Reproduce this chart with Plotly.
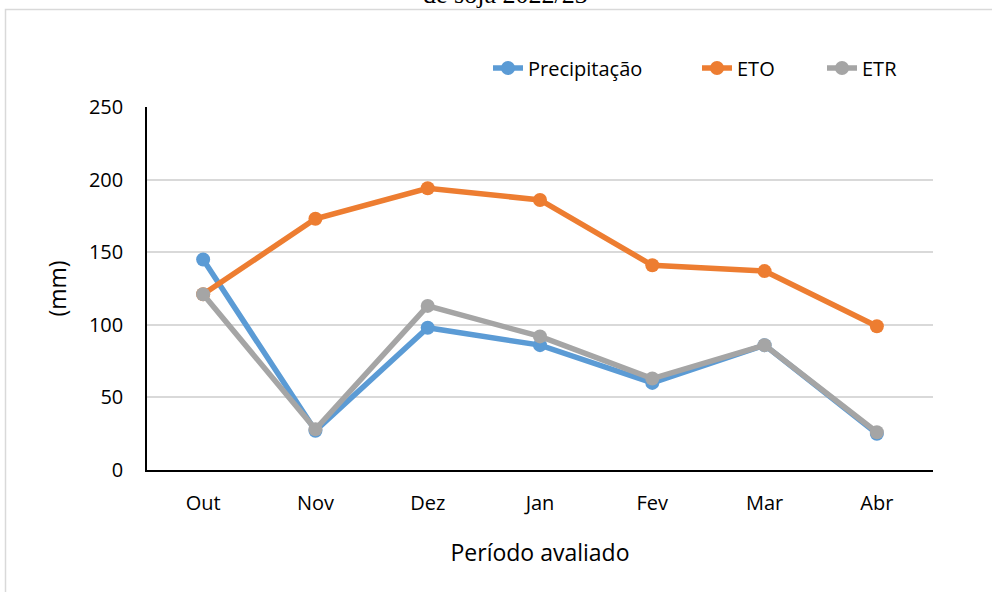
import plotly.graph_objects as go

months = ["Out", "Nov", "Dez", "Jan", "Fev", "Mar", "Abr"]
precipitacao = [145, 27, 98, 86, 60, 86, 25]
eto = [121, 173, 194, 186, 141, 137, 99]
etr = [121, 28, 113, 92, 63, 86, 26]
y_ticks = [0, 50, 100, 150, 200, 250]

L, R, T, B = 147, 59, 107, 122
W, H = 992, 592
pw, ph = W - L - R, H - T - B

def px_x(px):
    return (px - L) / pw

def px_y(py):
    return (H - B - py) / ph

fig = go.Figure()
series = [
    ("Precipitação", precipitacao, "#5B9BD5", "legend"),
    ("ETO", eto, "#ED7D31", "legend2"),
    ("ETR", etr, "#A5A5A5", "legend3"),
]
for name, vals, col, leg in series:
    fig.add_trace(go.Scatter(
        x=months, y=vals, name=name, mode="lines+markers",
        line=dict(color=col, width=5.5),
        marker=dict(color=col, size=14),
        legend=leg,
    ))

font = "Open Sans"
leg_common = dict(orientation="h", yanchor="middle", xanchor="left",
                  bgcolor="rgba(0,0,0,0)", font=dict(family=font, size=20, color="#000"))

fig.update_layout(
    width=W, height=H,
    margin=dict(l=L, r=R, t=T, b=B),
    paper_bgcolor="white", plot_bgcolor="white",
    showlegend=True,
    legend=dict(x=px_x(488), y=px_y(68), **leg_common),
    legend2=dict(x=px_x(697), y=px_y(68), **leg_common),
    legend3=dict(x=px_x(822), y=px_y(68), **leg_common),
    xaxis=dict(
        type="category", categoryorder="array", categoryarray=months,
        showline=True, linecolor="#000", linewidth=1.5,
        showgrid=False, ticks="", ticklabelstandoff=14,
        tickfont=dict(family=font, size=20, color="#000"),
        title=dict(text="Período avaliado", font=dict(family=font, size=23, color="#000"), standoff=30),
        range=[-0.5, 6.5],
    ),
    yaxis=dict(
        range=[0, 250], tickvals=y_ticks,
        showline=True, linecolor="#000", linewidth=1.5,
        showgrid=True, gridcolor="#d9d9d9", gridwidth=1.5,
        zeroline=False, ticks="", ticklabelstandoff=18,
        tickfont=dict(family=font, size=20, color="#000"),
        title=dict(text="(mm)", font=dict(family=font, size=23, color="#000"), standoff=16),
    ),
    shapes=[dict(type="rect", xref="paper", yref="paper",
                 x0=px_x(5.5), x1=px_x(1010), y0=px_y(9.5), y1=px_y(620),
                 line=dict(color="#d9d9d9", width=1.5), layer="below")],
    annotations=[dict(text="de soja 2022/23", xref="paper", yref="paper",
                      x=px_x(505), y=px_y(11), xanchor="center", yanchor="bottom",
                      showarrow=False,
                      font=dict(family="Liberation Serif", size=26, color="#000"))],
)

fig.write_html("out.html", config={"displayModeBar": False},
               post_script="document.body.style.margin='0';document.body.style.overflow='hidden';")
